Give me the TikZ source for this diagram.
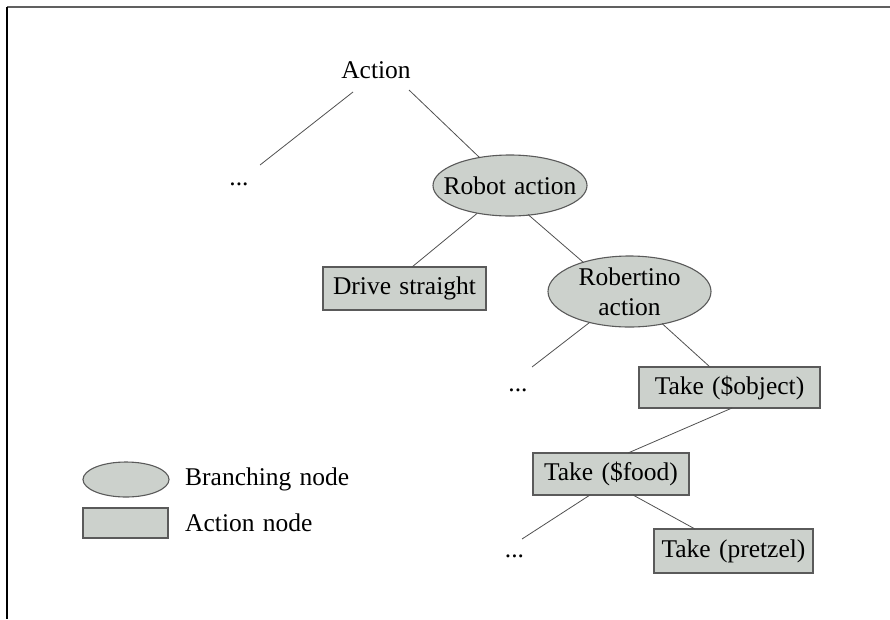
\documentclass[tikz,border=0pt]{standalone}
\usepackage{fontspec}
\setmainfont[WordSpace=1.3]{Liberation Serif}
\usetikzlibrary{shapes.geometric,calc}
\definecolor{nodefill}{RGB}{204,209,204}
\definecolor{nodeedge}{RGB}{90,90,90}
\definecolor{wire}{RGB}{80,80,80}
\tikzset{
  every node/.style={font=\fontsize{25.5}{30}\selectfont, text=black},
  branch/.style={ellipse, draw=nodeedge, line width=1.1pt, fill=nodefill, inner sep=0pt},
  actbox/.style={rectangle, draw=nodeedge, line width=1.1pt, fill=nodefill, inner sep=0pt},
  plain/.style={inner sep=0pt},
  edge/.style={draw=wire, line width=0.8pt},
  every label/.style={inner sep=0pt, align=center, font=\fontsize{25.5}{30}\selectfont},
}
\begin{document}
\begin{tikzpicture}[x=1pt, y=-1pt]
  \useasboundingbox (0,0) rectangle (890,619);
  % page frame (top and left edges only)
  \draw[line width=2pt, gray!75!black] (7,7) -- (890,7);
  \draw[line width=1.4pt, black] (7,7) -- (7,619);

  % tree nodes
  \node[plain, anchor=base] (action) at (376,78) {Action};
  \node[plain, anchor=base] (dotsA) at (239,185) {...};
  \node[branch, minimum width=154pt, minimum height=61pt, label=center:{Robot action}] (robot) at (510,185.5) {};
  \node[actbox, minimum width=163pt, minimum height=43pt] (drive) at (404.5,288.5) {Drive straight};
  \node[branch, minimum width=163pt, minimum height=71pt, label=center:{Robertino\\action}] (robertino) at (629.5,291.5) {};
  \node[plain, anchor=base] (dotsB) at (518,391) {...};
  \node[actbox, minimum width=181pt, minimum height=41pt] (takeobj) at (729.5,387.5) {Take (\$object)};
  \node[actbox, minimum width=156pt, minimum height=42pt] (takefood) at (611,474) {Take (\$food)};
  \node[plain, anchor=base] (dotsC) at (514.5,557) {...};
  \node[actbox, minimum width=159pt, minimum height=44pt] (pretzel) at (733.5,551) {Take (pretzel)};

  % connectors
  \draw[edge] ($(action.base)+(-23,14)$) -- ($(dotsA.base)+(21,-20)$);
  \draw[edge] ($(action.base)+(33,12)$) -- ($(robot.center)+(-30.5,-28)$);
  \draw[edge] ($(robot.center)+(-33,28)$) -- ($(drive.center)+(7.5,-21.5)$);
  \draw[edge] ($(robot.center)+(18,29)$) -- ($(robertino.center)+(-46,-29)$);
  \draw[edge] ($(robertino.center)+(-40,31)$) -- ($(dotsB.base)+(14,-24)$);
  \draw[edge] ($(robertino.center)+(32.5,32)$) -- ($(takeobj.center)+(-19.5,-20.5)$);
  \draw[edge] ($(takeobj.center)+(2.5,20.5)$) -- ($(takefood.center)+(17,-21)$);
  \draw[edge] ($(takefood.center)+(-21,21)$) -- ($(dotsC.base)+(7.5,-18)$);
  \draw[edge] ($(takefood.center)+(22,21)$) -- ($(pretzel.center)+(-38.5,-22)$);

  % legend
  \node[branch, minimum width=86pt, minimum height=35pt] (legbranch) at (126,479.5) {};
  \node[actbox, minimum width=85pt, minimum height=30pt] (legaction) at (125.5,523) {};
  \node[plain, anchor=base west] (legbranchtext) at (185,485) {Branching node};
  \node[plain, anchor=base west] (legactiontext) at (185,531.5) {Action node};
\end{tikzpicture}
\end{document}
